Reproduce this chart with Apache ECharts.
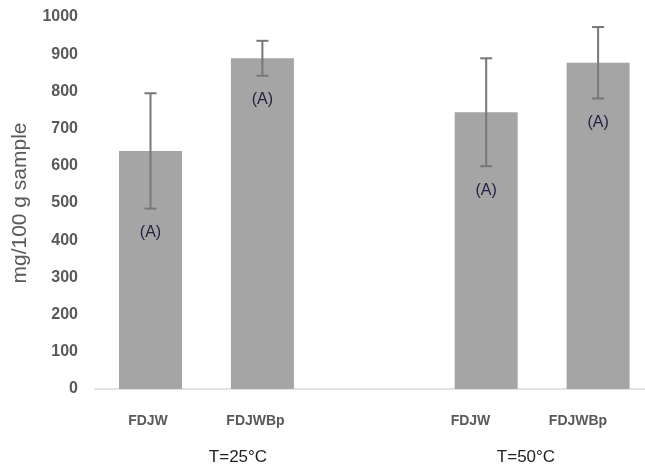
<!DOCTYPE html>
<html>
<head>
<meta charset="utf-8">
<script src="https://cdn.jsdelivr.net/npm/echarts@6/dist/echarts.min.js"></script>
<style>html,body{margin:0;padding:0;background:#fff}#c{width:645px;height:470px}</style>
</head>
<body>
<div id="c"></div>
<script>
const categories = ['FDJW', 'FDJWBp', '', 'FDJW', 'FDJWBp'];
const means = [640, 889, '-', 744, 877];
const errors = [155, 47, null, 145, 96];
const letters = ['(A)', '(A)', '', '(A)', '(A)'];
const groupLabels = ['T=25°C', 'T=50°C'];
const yAxisTitle = 'mg/100 g sample';

const errData = [];
means.forEach((m, i) => { if (m !== '-') errData.push([i, m, errors[i]]); });

const TOP = 17, BOTTOM = 81;
const chart = echarts.init(document.getElementById('c'), null, {renderer: 'canvas'});
chart.setOption({
  animation: false,
  backgroundColor: '#fff',
  grid: [
    {left: 95, right: 0, top: TOP, bottom: BOTTOM},
    {left: 150.5, right: 46.9, top: TOP, bottom: BOTTOM},
    {left: 148, right: 67, top: TOP, bottom: BOTTOM},
    {left: 238, right: 119, top: TOP, bottom: BOTTOM}
  ],
  xAxis: [
    {gridIndex: 0, type: 'category', data: categories,
     axisLine: {show: true, lineStyle: {color: '#d9d9d9', width: 1.5}},
     axisTick: {show: false}, axisLabel: {show: false}},
    {gridIndex: 1, type: 'category', data: categories, boundaryGap: false, show: false},
    {gridIndex: 2, type: 'category', data: categories, boundaryGap: false,
     axisLine: {show: false}, axisTick: {show: false},
     axisLabel: {margin: 25, color: '#595959', fontFamily: 'Liberation Sans', fontWeight: 'bold', fontSize: 14, interval: 0}},
    {gridIndex: 3, type: 'category', data: groupLabels, boundaryGap: false,
     axisLine: {show: false}, axisTick: {show: false},
     axisLabel: {margin: 60, color: '#222', fontFamily: 'Liberation Sans', fontSize: 17, interval: 0}}
  ],
  yAxis: [
    {gridIndex: 0, type: 'value', min: 0, max: 1000, interval: 100,
     axisLine: {show: false}, axisTick: {show: false}, splitLine: {show: false},
     axisLabel: {margin: 17, color: '#595959', fontFamily: 'Liberation Sans', fontWeight: 'bold', fontSize: 16,
       formatter: v => String(v)},
     name: yAxisTitle, nameLocation: 'middle', nameGap: 64,
     nameTextStyle: {color: '#595959', fontFamily: 'Liberation Sans', fontSize: 21}},
    {gridIndex: 1, type: 'value', min: 0, max: 1000, show: false, splitLine: {show: false}},
    {gridIndex: 2, type: 'value', min: 0, max: 1000, show: false, splitLine: {show: false}},
    {gridIndex: 3, type: 'value', min: 0, max: 1000, show: false, splitLine: {show: false}}
  ],
  series: [
    {type: 'bar', xAxisIndex: 1, yAxisIndex: 1, data: means, barWidth: 63,
     itemStyle: {color: '#a5a5a5'}},
    {type: 'custom', xAxisIndex: 1, yAxisIndex: 1, data: errData, z: 10,
     renderItem: function (params, api) {
       const i = api.value(0), m = api.value(1), e = api.value(2);
       const top = api.coord([i, m + e]);
       const bot = api.coord([i, m - e]);
       const hw = 6;
       const st = {stroke: '#777777', lineWidth: 2};
       return {type: 'group', children: [
         {type: 'line', shape: {x1: top[0], y1: top[1], x2: bot[0], y2: bot[1]}, style: st},
         {type: 'line', shape: {x1: top[0] - hw, y1: top[1], x2: top[0] + hw, y2: top[1]}, style: st},
         {type: 'line', shape: {x1: bot[0] - hw, y1: bot[1], x2: bot[0] + hw, y2: bot[1]}, style: st},
         {type: 'text', style: {text: letters[i], x: bot[0], y: bot[1] + 24, align: 'center', verticalAlign: 'middle',
           fill: '#222244', fontFamily: 'Liberation Sans', fontSize: 16}}
       ]};
     }}
  ]
});
</script>
</body>
</html>
